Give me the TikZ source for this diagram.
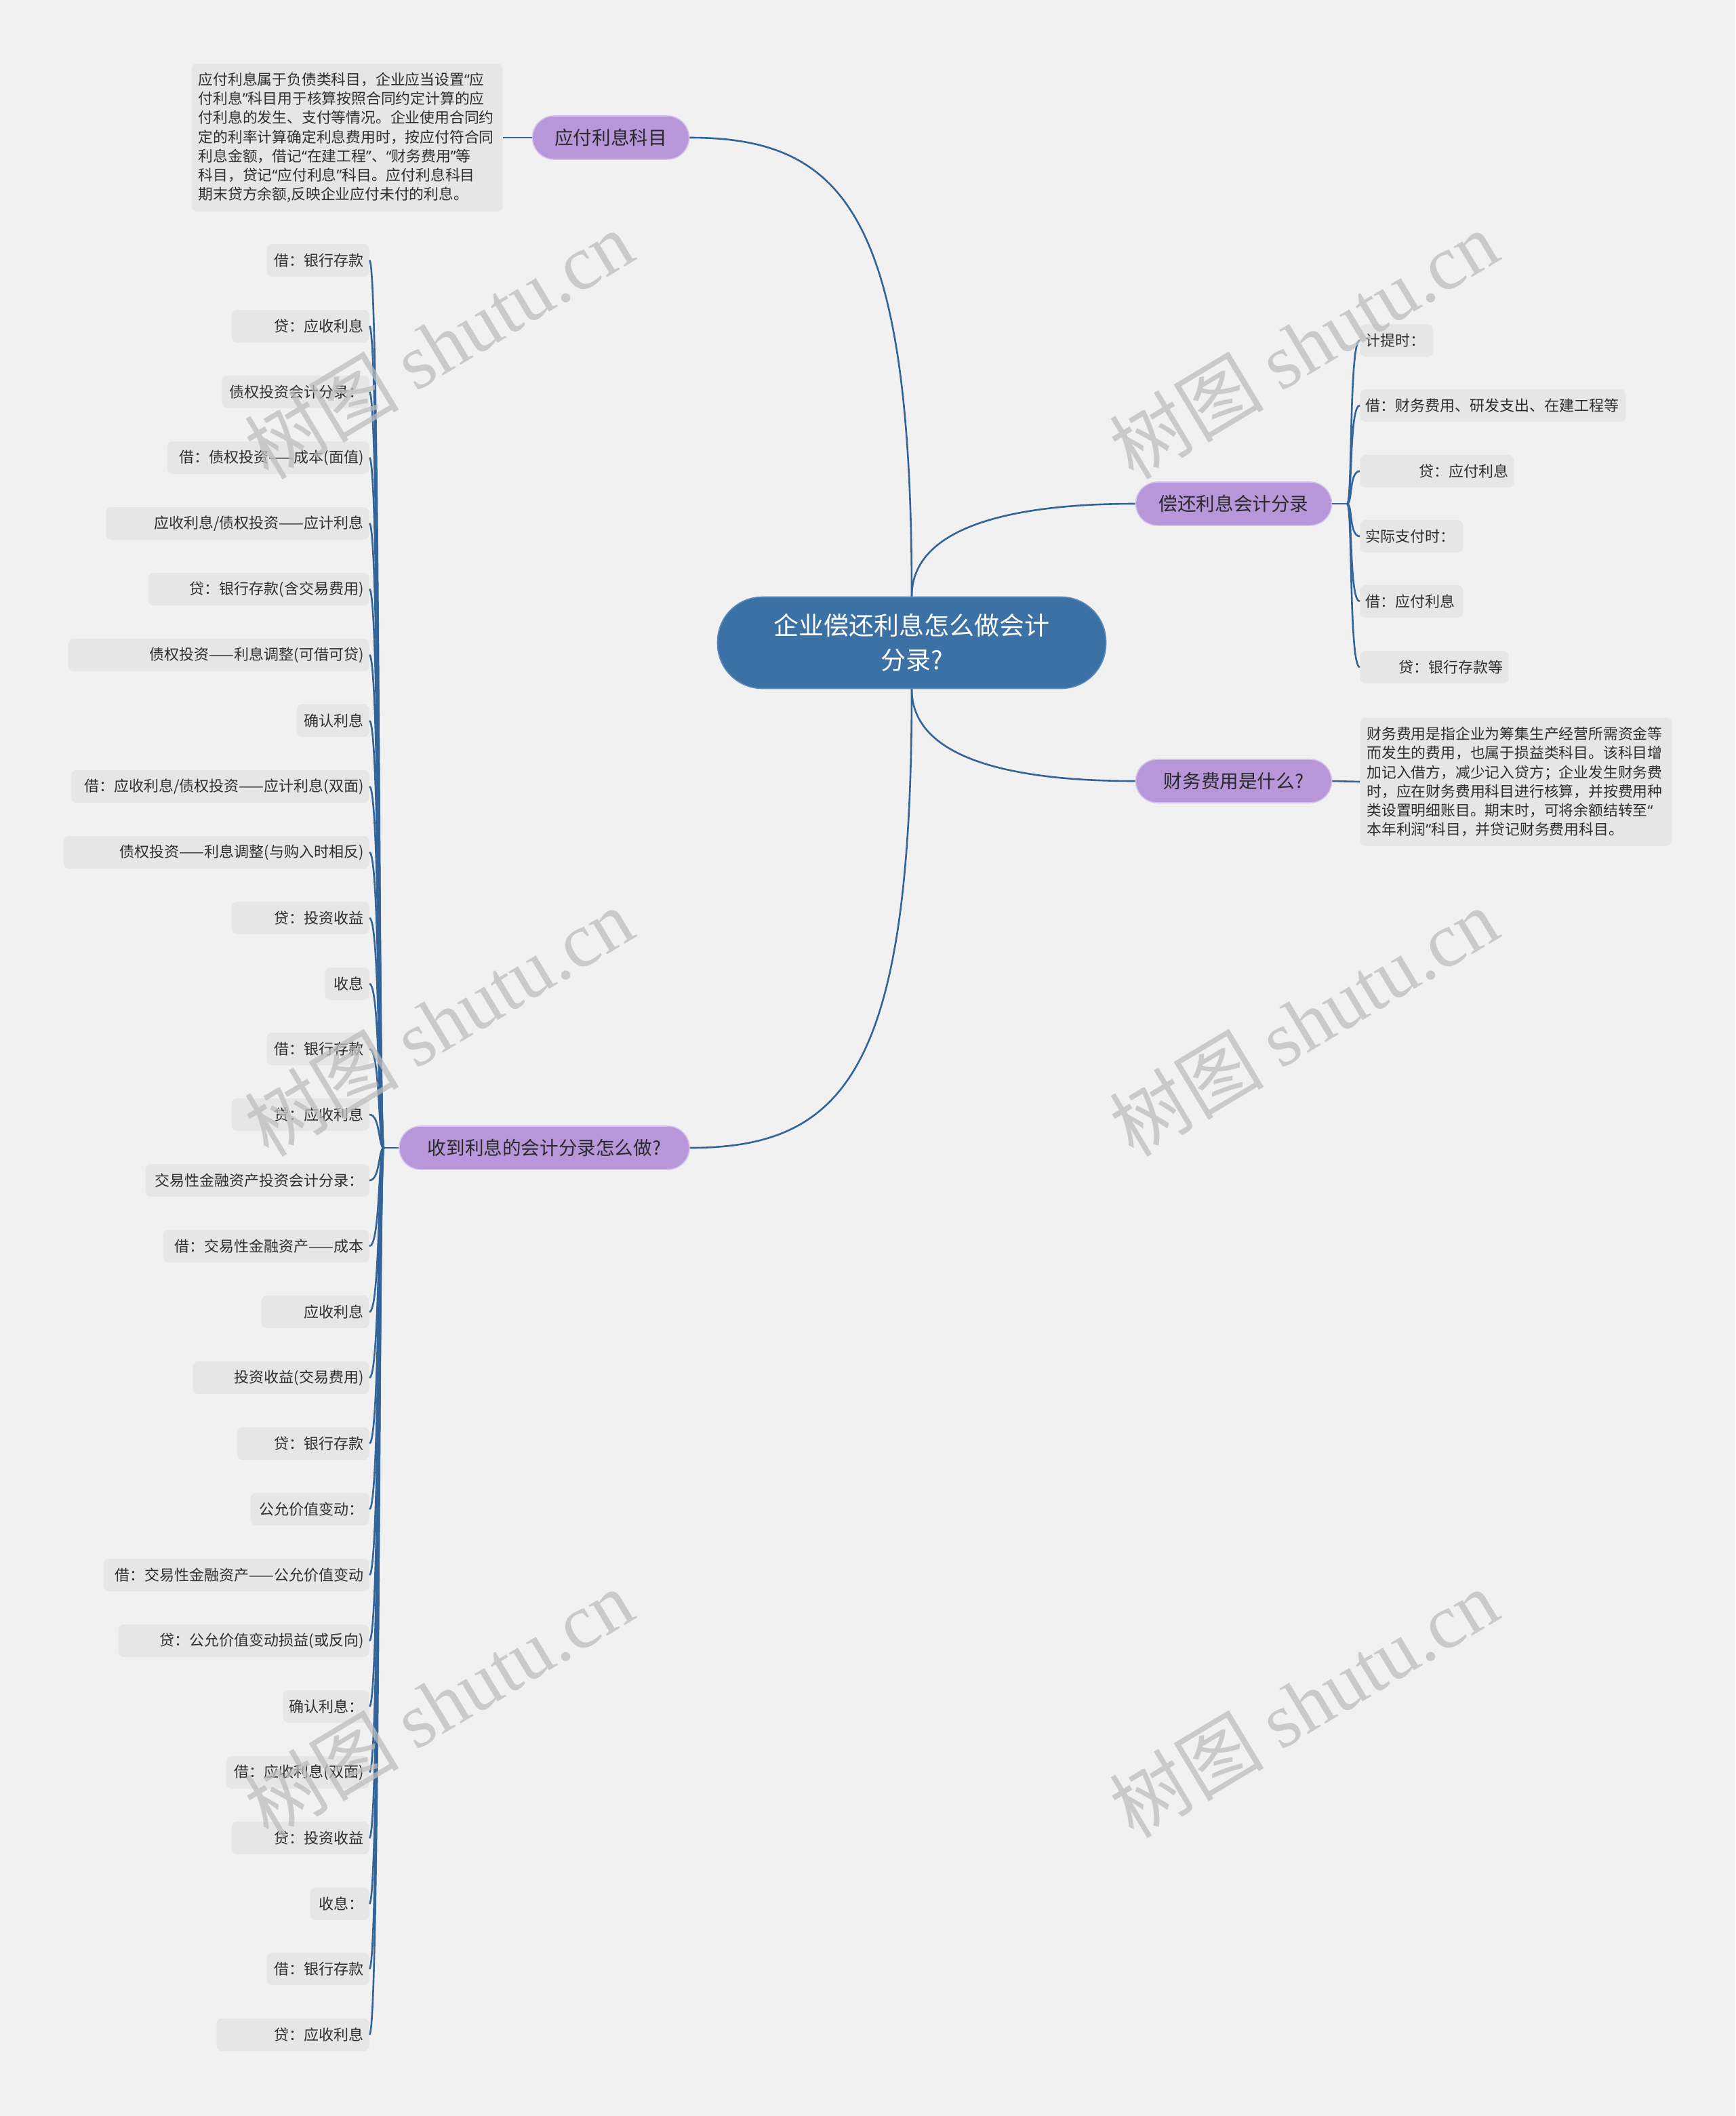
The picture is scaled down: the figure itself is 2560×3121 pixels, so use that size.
\documentclass[tikz,border=0pt]{standalone}
\usepackage{fontspec}
\setmainfont{Noto Sans CJK SC}
\newfontfamily\wmfont{Liberation Serif}
\newfontfamily\qfont{Noto Sans}
\newcommand{\qopen}{{\qfont “}}
\newcommand{\qclose}{{\qfont ”}}
\usepackage{tikz}
\usetikzlibrary{positioning,calc}
\usepackage{xcolor}
\definecolor{bgcol}{HTML}{F1F1F1}
\definecolor{rootblue}{HTML}{3C71A5}
\definecolor{rootline}{HTML}{5B8BBB}
\definecolor{topicpurple}{HTML}{B796DA}
\definecolor{topicline}{HTML}{D3C0EA}
\definecolor{topictext}{HTML}{2A2A2A}
\definecolor{leafgray}{HTML}{E6E6E6}
\definecolor{leaftext}{HTML}{2F2F2F}
\definecolor{linkblue}{HTML}{32649A}
\definecolor{wmgray}{HTML}{BDBDBD}

\begin{document}
\begin{tikzpicture}[
  x=0.5pt, y=-0.5pt,
  root/.style={draw=rootline, line width=0.8pt, fill=rootblue, text=white,
               rounded corners=33pt, minimum width=286.5pt, minimum height=67.5pt,
               align=center, font=\fontsize{18.5}{25.5}\selectfont},
  topic/.style={draw=topicline, line width=0.8pt, fill=topicpurple, text=topictext,
                rounded corners=16pt, minimum height=32pt,
                font=\fontsize{13.8}{16}\selectfont},
  leaf/.style={fill=leafgray, rounded corners=4pt, minimum height=24pt,
               inner xsep=4pt, align=right, text=leaftext,
               font=\fontsize{11}{12}\selectfont},
  note/.style={fill=leafgray, rounded corners=4pt, inner xsep=5pt, align=left,
               text=leaftext, font=\fontsize{10.9}{14.1}\selectfont},
  link/.style={draw=linkblue, line width=1.3pt},
  watermark/.style={text=wmgray, opacity=0.75, rotate=31,
                    font=\fontsize{57}{57}\selectfont}
]
% Background
\fill[bgcol] (0,0) rectangle (2560,3121);

% Root and main topics
\node[root] (Root) at (1345,948) {企业偿还利息怎么做会计\\分录?};
\node[topic, minimum width=115.5pt] (Acct)  at (901,203)   {应付利息科目};
\node[topic, minimum width=214pt]   (Recv)  at (803,1693)  {收到利息的会计分录怎么做?};
\node[topic, minimum width=144.5pt] (Repay) at (1820,743)  {偿还利息会计分录};
\node[topic, minimum width=144.5pt] (Fee)   at (1820,1152) {财务费用是什么?};

% Notes
\node[note, anchor=east, text width=219.5pt, minimum height=109pt] (AcctNote) at (742,203)
  {应付利息属于负债类科目，企业应当设置\qopen 应\\
   付利息\qclose 科目用于核算按照合同约定计算的应\\
   付利息的发生、支付等情况。企业使用合同约\\
   定的利率计算确定利息费用时，按应付符合同\\
   利息金额，借记\qopen 在建工程\qclose 、\qopen 财务费用\qclose 等\\
   科目，贷记\qopen 应付利息\qclose 科目。应付利息科目\\
   期末贷方余额,反映企业应付未付的利息。};
\node[note, anchor=west, text width=220pt, minimum height=94.5pt] (FeeNote) at (2006,1153)
  {财务费用是指企业为筹集生产经营所需资金等\\
   而发生的费用，也属于损益类科目。该科目增\\
   加记入借方，减少记入贷方；企业发生财务费\\
   时，应在财务费用科目进行核算，并按费用种\\
   类设置明细账目。期末时，可将余额结转至\qopen\\
   本年利润\qclose 科目，并贷记财务费用科目。};

% Right leaves
\node[leaf, anchor=west, text width=46pt, align=left]   (R1) at (2006,502) {计提时：};
\node[leaf, anchor=west, text width=188pt, align=left]  (R2) at (2006,598) {借：财务费用、研发支出、在建工程等};
\node[leaf, anchor=west, text width=105.5pt]            (R3) at (2006,695) {贷：应付利息};
\node[leaf, anchor=west, text width=68pt, align=left]   (R4) at (2006,791) {实际支付时：};
\node[leaf, anchor=west, text width=68pt, align=left]   (R5) at (2006,887) {借：应付利息};
\node[leaf, anchor=west, text width=101.5pt]            (R6) at (2006,984) {贷：银行存款等};

% Left leaves
\node[leaf, anchor=east, text width=67.5pt]  (L1)  at (545,384)  {借：银行存款};
\node[leaf, anchor=east, text width=93.5pt]  (L2)  at (545,481)  {贷：应收利息};
\node[leaf, anchor=east, text width=100.5pt] (L3)  at (545,578)  {债权投资会计分录：};
\node[leaf, anchor=east, text width=141pt]   (L4)  at (545,675)  {借：债权投资——成本(面值)};
\node[leaf, anchor=east, text width=186pt]   (L5)  at (545,772)  {应收利息/债权投资——应计利息};
\node[leaf, anchor=east, text width=155pt]   (L6)  at (545,869)  {贷：银行存款(含交易费用)};
\node[leaf, anchor=east, text width=214pt]   (L7)  at (545,966)  {债权投资——利息调整(可借可贷)};
\node[leaf, anchor=east, text width=45.5pt]  (L8)  at (545,1063) {确认利息};
\node[leaf, anchor=east, text width=212pt]   (L9)  at (545,1160) {借：应收利息/债权投资——应计利息(双面)};
\node[leaf, anchor=east, text width=217.5pt] (L10) at (545,1257) {债权投资——利息调整(与购入时相反)};
\node[leaf, anchor=east, text width=93.5pt]  (L11) at (545,1354) {贷：投资收益};
\node[leaf, anchor=east, text width=24.5pt]  (L12) at (545,1451) {收息};
\node[leaf, anchor=east, text width=67.5pt]  (L13) at (545,1547) {借：银行存款};
\node[leaf, anchor=east, text width=93.5pt]  (L14) at (545,1644) {贷：应收利息};
\node[leaf, anchor=east, text width=157pt]   (L15) at (545,1741) {交易性金融资产投资会计分录：};
\node[leaf, anchor=east, text width=144pt]   (L16) at (545,1838) {借：交易性金融资产——成本};
\node[leaf, anchor=east, text width=71.5pt]  (L17) at (545,1935) {应收利息};
\node[leaf, anchor=east, text width=122pt]   (L18) at (545,2032) {投资收益(交易费用)};
\node[leaf, anchor=east, text width=89.5pt]  (L19) at (545,2129) {贷：银行存款};
\node[leaf, anchor=east, text width=79.5pt]  (L20) at (545,2226) {公允价值变动：};
\node[leaf, anchor=east, text width=188pt]   (L21) at (545,2323) {借：交易性金融资产——公允价值变动};
\node[leaf, anchor=east, text width=177pt]   (L22) at (545,2420) {贷：公允价值变动损益(或反向)};
\node[leaf, anchor=east, text width=55.5pt]  (L23) at (545,2517) {确认利息：};
\node[leaf, anchor=east, text width=97.5pt]  (L24) at (545,2614) {借：应收利息(双面)};
\node[leaf, anchor=east, text width=93.5pt]  (L25) at (545,2711) {贷：投资收益};
\node[leaf, anchor=east, text width=35.5pt]  (L26) at (545,2808) {收息：};
\node[leaf, anchor=east, text width=67.5pt]  (L27) at (545,2904) {借：银行存款};
\node[leaf, anchor=east, text width=104.5pt] (L28) at (545,3001) {贷：应收利息};

% Main branches
\draw[link] (Root.north) .. controls +(0,-560) and +(230,0) .. (Acct.east);
\draw[link] (Root.north) .. controls +(0,-100) and +(-190,0) .. (Repay.west);
\draw[link] (Root.south) .. controls +(0,100) and +(-190,0) .. (Fee.west);
\draw[link] (Root.south) .. controls +(0,560) and +(230,0) .. (Recv.east);

% Notes
\draw[link] (Acct.west) -- (AcctNote.east);
\draw[link] (Fee.east) -- (FeeNote.west);

% Right leaves links
\draw[link] (Repay.east) -- ++(22,0) coordinate (RepayHub);
\draw[link] (RepayHub) .. controls +(8,0) and +(-16,0) .. (R1.west);
\draw[link] (RepayHub) .. controls +(8,0) and +(-16,0) .. (R2.west);
\draw[link] (RepayHub) .. controls +(8,0) and +(-16,0) .. (R3.west);
\draw[link] (RepayHub) .. controls +(8,0) and +(-16,0) .. (R4.west);
\draw[link] (RepayHub) .. controls +(8,0) and +(-16,0) .. (R5.west);
\draw[link] (RepayHub) .. controls +(8,0) and +(-16,0) .. (R6.west);

% Left leaves links
\draw[link] (Recv.west) -- ++(-22,0) coordinate (RecvHub);
\draw[link] (RecvHub) .. controls +(-8,0) and +(16,0) .. (L1.east);
\draw[link] (RecvHub) .. controls +(-8,0) and +(16,0) .. (L2.east);
\draw[link] (RecvHub) .. controls +(-8,0) and +(16,0) .. (L3.east);
\draw[link] (RecvHub) .. controls +(-8,0) and +(16,0) .. (L4.east);
\draw[link] (RecvHub) .. controls +(-8,0) and +(16,0) .. (L5.east);
\draw[link] (RecvHub) .. controls +(-8,0) and +(16,0) .. (L6.east);
\draw[link] (RecvHub) .. controls +(-8,0) and +(16,0) .. (L7.east);
\draw[link] (RecvHub) .. controls +(-8,0) and +(16,0) .. (L8.east);
\draw[link] (RecvHub) .. controls +(-8,0) and +(16,0) .. (L9.east);
\draw[link] (RecvHub) .. controls +(-8,0) and +(16,0) .. (L10.east);
\draw[link] (RecvHub) .. controls +(-8,0) and +(16,0) .. (L11.east);
\draw[link] (RecvHub) .. controls +(-8,0) and +(16,0) .. (L12.east);
\draw[link] (RecvHub) .. controls +(-8,0) and +(16,0) .. (L13.east);
\draw[link] (RecvHub) .. controls +(-8,0) and +(16,0) .. (L14.east);
\draw[link] (RecvHub) .. controls +(-8,0) and +(16,0) .. (L15.east);
\draw[link] (RecvHub) .. controls +(-8,0) and +(16,0) .. (L16.east);
\draw[link] (RecvHub) .. controls +(-8,0) and +(16,0) .. (L17.east);
\draw[link] (RecvHub) .. controls +(-8,0) and +(16,0) .. (L18.east);
\draw[link] (RecvHub) .. controls +(-8,0) and +(16,0) .. (L19.east);
\draw[link] (RecvHub) .. controls +(-8,0) and +(16,0) .. (L20.east);
\draw[link] (RecvHub) .. controls +(-8,0) and +(16,0) .. (L21.east);
\draw[link] (RecvHub) .. controls +(-8,0) and +(16,0) .. (L22.east);
\draw[link] (RecvHub) .. controls +(-8,0) and +(16,0) .. (L23.east);
\draw[link] (RecvHub) .. controls +(-8,0) and +(16,0) .. (L24.east);
\draw[link] (RecvHub) .. controls +(-8,0) and +(16,0) .. (L25.east);
\draw[link] (RecvHub) .. controls +(-8,0) and +(16,0) .. (L26.east);
\draw[link] (RecvHub) .. controls +(-8,0) and +(16,0) .. (L27.east);
\draw[link] (RecvHub) .. controls +(-8,0) and +(16,0) .. (L28.east);

% Watermarks
\node[watermark] (W1) at (647,508)   {树图 {\wmfont shutu.cn}};
\node[watermark] (W2) at (1923,508)  {树图 {\wmfont shutu.cn}};
\node[watermark] (W3) at (647,1507)  {树图 {\wmfont shutu.cn}};
\node[watermark] (W4) at (1923,1507) {树图 {\wmfont shutu.cn}};
\node[watermark] (W5) at (647,2512)  {树图 {\wmfont shutu.cn}};
\node[watermark] (W6) at (1923,2512) {树图 {\wmfont shutu.cn}};
\end{tikzpicture}
\end{document}
